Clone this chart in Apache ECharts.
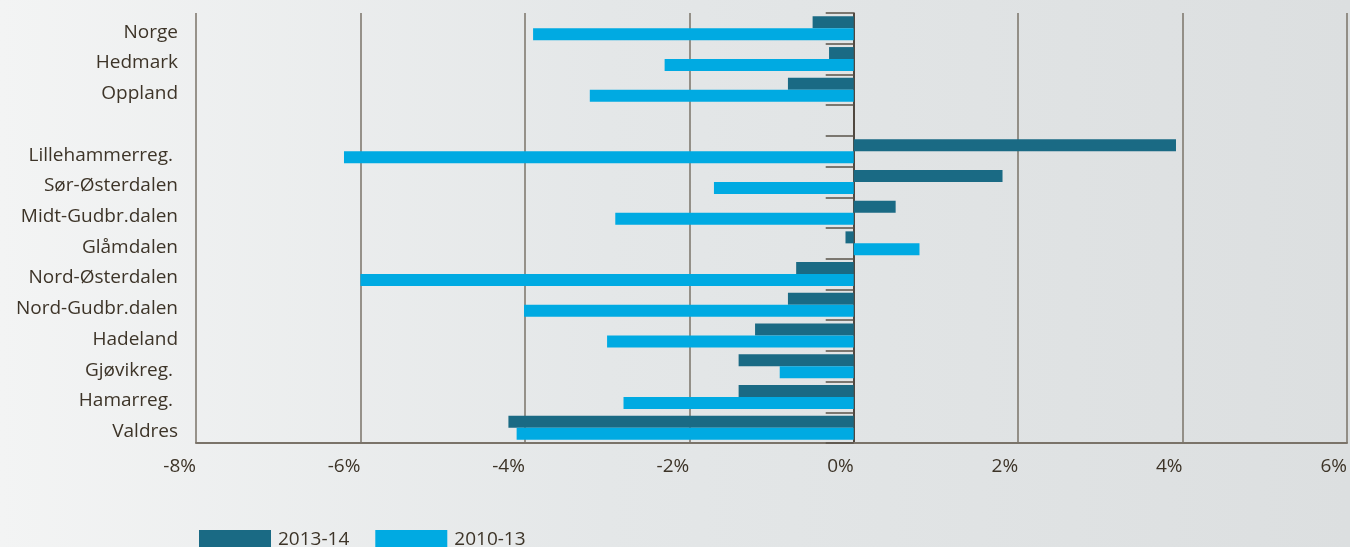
<!DOCTYPE html>
<html>
<head>
<meta charset="utf-8">
<script src="https://cdn.jsdelivr.net/npm/echarts@6/dist/echarts.min.js"></script>
<style>
html,body{margin:0;padding:0;}
body{width:1350px;height:547px;background:linear-gradient(to right,#f3f4f4 0%,#e4e7e8 45%,#dcdfe0 100%);}
#c{width:1350px;height:547px;}
</style>
</head>
<body>
<div id="c"></div>
<script>
const categories = ['Norge','Hedmark','Oppland','','Lillehammerreg. ','Sør-Østerdalen','Midt-Gudbr.dalen','Glåmdalen','Nord-Østerdalen','Nord-Gudbr.dalen','Hadeland','Gjøvikreg. ','Hamarreg. ','Valdres'];
const series2013_14 = [-0.50,-0.30,-0.80,null,3.92,1.81,0.51,-0.10,-0.70,-0.80,-1.20,-1.40,-1.40,-4.20];
const series2010_13 = [-3.90,-2.30,-3.21,null,-6.20,-1.70,-2.90,0.80,-6.00,-4.01,-3.00,-0.90,-2.80,-4.10];
const seriesNames = ['2013-14','2010-13'];
const xTicks = {min:-8,max:6,interval:2};

const textColor = '#3d3428';
const fontFamily = '"Open Sans", Lato, sans-serif';
const chart = echarts.init(document.getElementById('c'));
chart.setOption({
  animation:false,
  backgroundColor:'transparent',
  grid:{left:196,right:3,top:13,bottom:104,containLabel:false,outerBoundsMode:'none'},
  legend:{
    left:194, top:525, itemWidth:72, itemHeight:20, itemGap:26,
    icon:'rect',
    textStyle:{color:textColor,fontSize:19,fontFamily:fontFamily,padding:[0,0,0,2]},
    data:seriesNames
  },
  xAxis:{
    type:'value', min:xTicks.min, max:xTicks.max, interval:xTicks.interval,
    axisLine:{show:true,onZero:false,lineStyle:{color:'#7a7369',width:2}},
    axisTick:{show:false},
    splitLine:{show:true,lineStyle:{color:'#7a7369',width:1.5}},
    axisLabel:{formatter:v=>v+'%',align:'right',margin:14,color:textColor,fontSize:19,fontFamily:fontFamily}
  },
  yAxis:[
    {
      type:'category', data:categories, inverse:true,
      axisLine:{show:true,onZero:true,lineStyle:{color:'#3a3128',width:1.5}},
      axisTick:{show:true,length:28,lineStyle:{color:'#5a5349',width:1.5}},
      axisLabel:{show:false},
      splitLine:{show:false}
    },
    {
      type:'category', data:categories, inverse:true, position:'left', offset:0,
      axisLine:{show:false,onZero:false},
      axisTick:{show:false},
      axisLabel:{show:true,interval:0,hideOverlap:false,margin:18,verticalAlign:'top',lineHeight:8,color:textColor,fontSize:19,fontFamily:fontFamily},
      splitLine:{show:false}
    }
  ],
  series:[
    {name:seriesNames[0],type:'bar',yAxisIndex:0,data:series2013_14,barWidth:12,barGap:'0%',itemStyle:{color:'#1a6a84'}},
    {name:seriesNames[1],type:'bar',yAxisIndex:0,data:series2010_13,barWidth:12,barGap:'0%',itemStyle:{color:'#00aae2'}}
  ]
});
</script>
</body>
</html>
